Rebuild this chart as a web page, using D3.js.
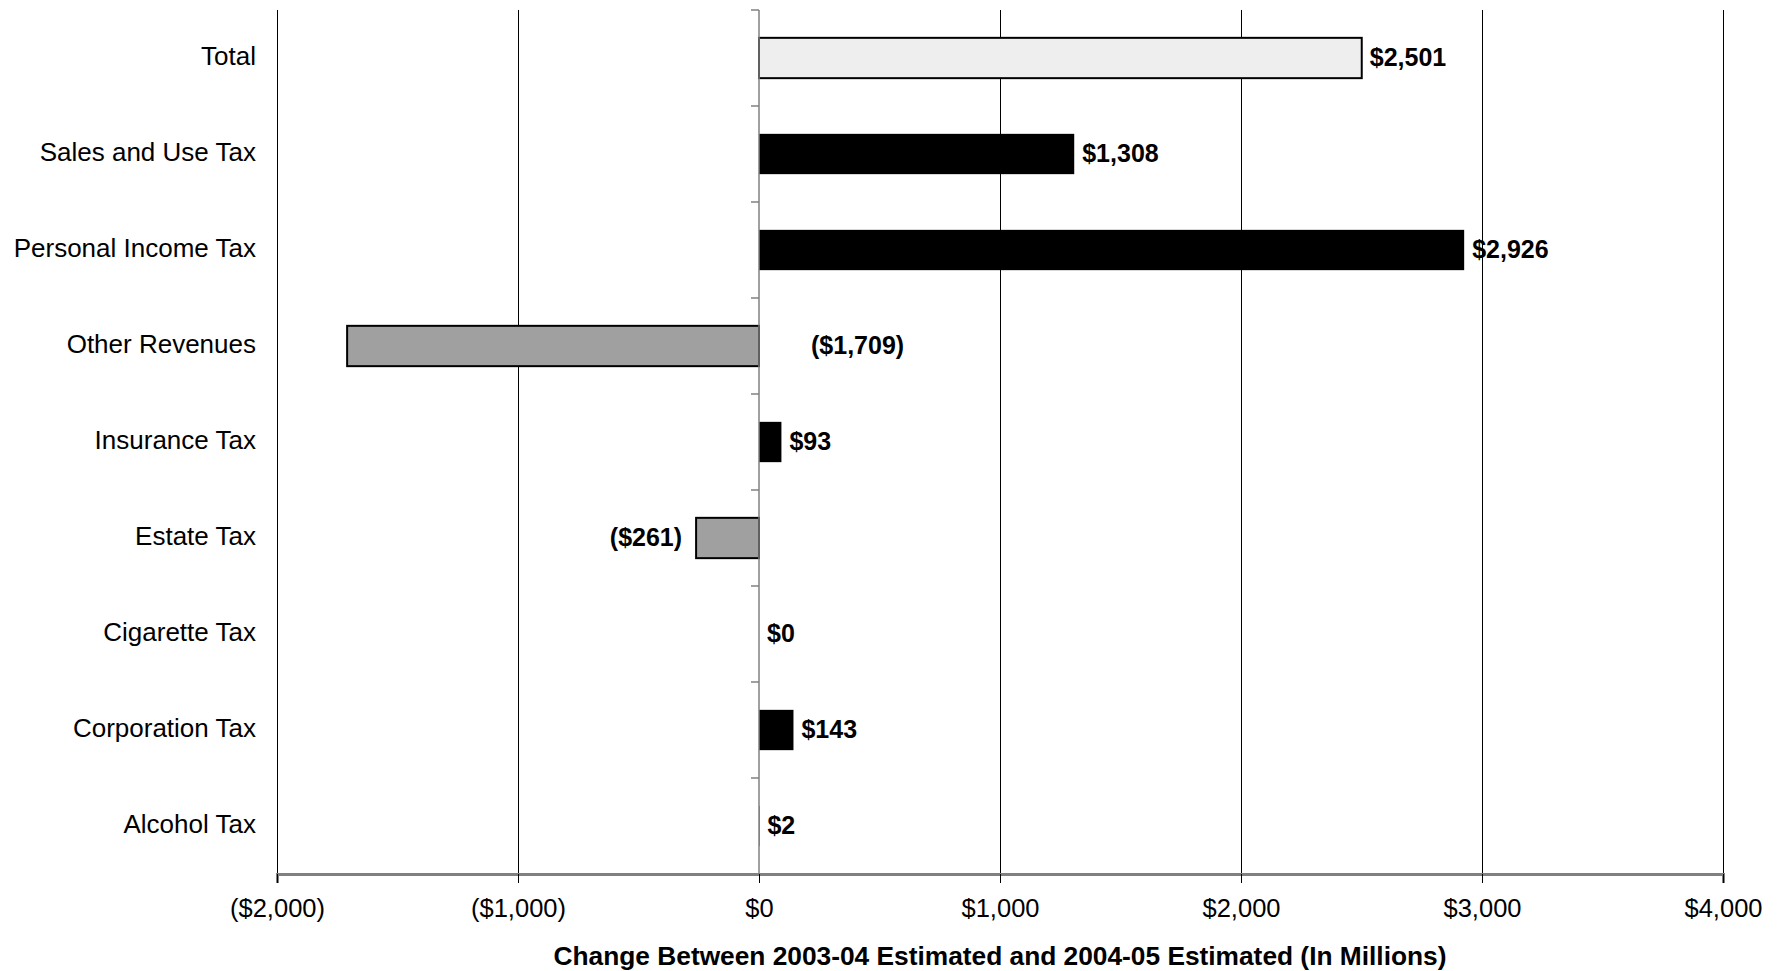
<!DOCTYPE html>
<html>
<head>
<meta charset="utf-8">
<script src="https://cdn.jsdelivr.net/npm/d3@7/dist/d3.min.js"></script>
<style>
  html, body { margin: 0; padding: 0; background: #fff; }
  svg { display: block; }
  text { font-family: "Liberation Sans", Arial, sans-serif; fill: #000; }
</style>
</head>
<body>
<svg id="chart" width="1779" height="971"></svg>
<script>
// ---- data ----
const categories = ["Total", "Sales and Use Tax", "Personal Income Tax", "Other Revenues",
  "Insurance Tax", "Estate Tax", "Cigarette Tax", "Corporation Tax", "Alcohol Tax"];
const values = [2501, 1308, 2926, -1709, 93, -261, 0, 143, 2];
const barColors = ["#eeeeee", "#000000", "#000000", "#a0a0a0", "#000000", "#a0a0a0", "#000000", "#000000", "#000000"];
const valueLabels = ["$2,501", "$1,308", "$2,926", "($1,709)", "$93", "($261)", "$0", "$143", "$2"];
const xTicks = [-2000, -1000, 0, 1000, 2000, 3000, 4000];
const xTickLabels = ["($2,000)", "($1,000)", "$0", "$1,000", "$2,000", "$3,000", "$4,000"];
const xTitle = "Change Between 2003-04 Estimated and 2004-05 Estimated (In Millions)";

// ---- layout ----
const svg = d3.select("#chart");
const pLeft = 277, pRight = 1723, pTop = 10, pBottom = 874;

const x = d3.scaleLinear().domain([-2000, 4000]).range([pLeft, pRight]);
const y = d3.scaleBand().domain(categories).range([pTop, pBottom])
  .paddingInner(0.58).paddingOuter(0.29);

// gridlines
svg.append("g").selectAll("line").data(xTicks.filter(d => d !== 0)).join("line")
  .attr("x1", d => Math.round(x(d)) + 0.5).attr("x2", d => Math.round(x(d)) + 0.5)
  .attr("y1", pTop).attr("y2", pBottom)
  .attr("stroke", "#000").attr("stroke-width", 1);

// bars
svg.append("g").selectAll("rect").data(values).join("rect")
  .attr("x", d => x(Math.min(0, d)))
  .attr("width", d => Math.abs(x(d) - x(0)))
  .attr("y", (d, i) => y(categories[i]))
  .attr("height", y.bandwidth())
  .attr("fill", (d, i) => barColors[i])
  .attr("stroke", (d, i) => (barColors[i] === "#000000" ? "none" : "#000"))
  .attr("stroke-width", 2);

// category axis at zero
svg.append("line").attr("x1", x(0)).attr("x2", x(0)).attr("y1", pTop).attr("y2", pBottom)
  .attr("stroke", "#808080").attr("stroke-width", 1.5);
// category tick marks at band boundaries
const boundaries = categories.map(c => y(c) - y.step() * y.paddingInner() / 2);
boundaries.push(pBottom);
svg.append("g").selectAll("line").data(boundaries).join("line")
  .attr("x1", x(0) - 8).attr("x2", x(0))
  .attr("y1", d => d).attr("y2", d => d)
  .attr("stroke", "#808080").attr("stroke-width", 1.5);

// category labels
svg.append("g").selectAll("text").data(categories).join("text")
  .attr("x", 256)
  .attr("y", d => y(d) + y.bandwidth() / 2 - 2)
  .attr("text-anchor", "end")
  .attr("dominant-baseline", "central")
  .style("font-size", "26px")
  .text(d => d);

// x axis
const xAxis = d3.axisBottom(x).tickValues(xTicks).tickSize(9)
  .tickFormat((d, i) => xTickLabels[i]).tickPadding(10);
const xg = svg.append("g").attr("transform", `translate(0,${pBottom})`).call(xAxis);
xg.select(".domain").attr("stroke", "#808080").attr("stroke-width", 3);
xg.selectAll(".tick line").attr("stroke", "#000").attr("stroke-width", 1);
xg.selectAll(".tick text")
  .style("font-size", "25.5px")
  .style("font-family", "'Liberation Sans', Arial, sans-serif")
  .attr("y", 34).attr("dy", "0.35em");

// axis title
svg.append("text")
  .attr("x", (pLeft + pRight) / 2).attr("y", 956)
  .attr("text-anchor", "middle").attr("dominant-baseline", "central")
  .style("font-size", "26.3px").style("font-weight", "bold")
  .text(xTitle);

// value labels
svg.append("g").selectAll("text").data(values).join("text")
  .attr("y", (d, i) => y(categories[i]) + y.bandwidth() / 2 - 1)
  .attr("dominant-baseline", "central")
  .style("font-size", "25px").style("font-weight", "bold")
  .each(function (d, i) {
    const t = d3.select(this).text(valueLabels[i]);
    if (d >= 0) {
      t.attr("x", x(d) + 8).attr("text-anchor", "start");
    } else {
      const w = this.getComputedTextLength();
      if (x(d) - 14 - w < pLeft) {
        // not enough room to the left: placed right of the zero axis
        t.attr("x", x(0) + 52).attr("text-anchor", "start");
      } else {
        t.attr("x", x(d) - 14).attr("text-anchor", "end");
      }
    }
  });
</script>
</body>
</html>
